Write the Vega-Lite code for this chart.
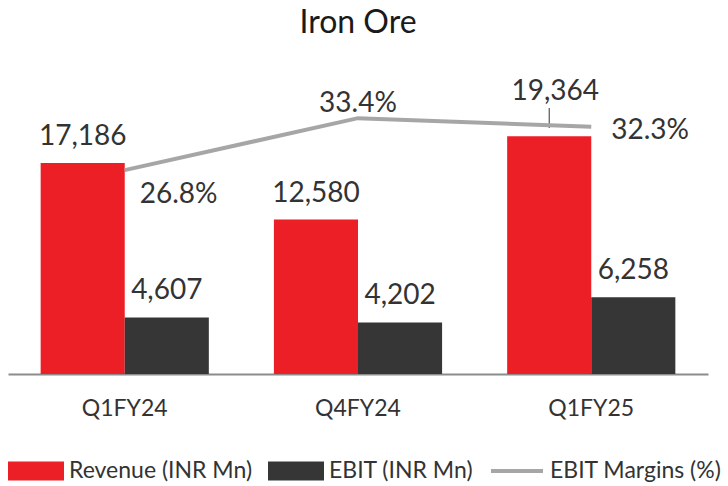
{
  "$schema": "https://vega.github.io/schema/vega-lite/v6.json",
  "width": 700,
  "height": 307,
  "autosize": {"type": "none"},
  "padding": {"left": 8, "top": 67, "right": 20, "bottom": 112},
  "background": "white",
  "title": {"text": "Iron Ore", "font": "Lato", "fontSize": 32, "fontWeight": "normal", "color": "#1a1a1a", "anchor": "middle", "offset": 27},
  "config": {"view": {"stroke": null}, "font": "Lato"},
  "datasets": {
    "bars": [
      {"q": "Q1FY24", "series": "Revenue (INR Mn)", "value": 17186},
      {"q": "Q1FY24", "series": "EBIT (INR Mn)", "value": 4607},
      {"q": "Q4FY24", "series": "Revenue (INR Mn)", "value": 12580},
      {"q": "Q4FY24", "series": "EBIT (INR Mn)", "value": 4202},
      {"q": "Q1FY25", "series": "Revenue (INR Mn)", "value": 19364},
      {"q": "Q1FY25", "series": "EBIT (INR Mn)", "value": 6258}
    ],
    "margin": [
      {"q": "Q1FY24", "series": "EBIT Margins (%)", "m": 0.268},
      {"q": "Q4FY24", "series": "EBIT Margins (%)", "m": 0.334},
      {"q": "Q1FY25", "series": "EBIT Margins (%)", "m": 0.323}
    ],
    "leader": [
      {"q": "Q1FY25", "series": "Revenue (INR Mn)", "lo": 20030, "hi": 21660}
    ]
  },
  "encoding": {
    "x": {
      "field": "q", "type": "nominal", "sort": ["Q1FY24", "Q4FY24", "Q1FY25"],
      "scale": {"paddingInner": 0.279, "paddingOuter": 0.14},
      "axis": {"title": null, "labelAngle": 0, "ticks": false, "domainColor": "#8c8c8c", "domainWidth": 2, "labelFont": "Lato", "labelFontSize": 23, "labelColor": "#333333", "labelPadding": 23}
    }
  },
  "layer": [
    {
      "data": {"name": "bars"},
      "encoding": {
        "xOffset": {"field": "series", "type": "nominal", "sort": ["Revenue (INR Mn)", "EBIT (INR Mn)"], "scale": {"paddingInner": 0, "paddingOuter": 0}},
        "y": {"field": "value", "type": "quantitative", "scale": {"domain": [0, 25000], "nice": false}, "axis": null}
      },
      "layer": [
        {
          "mark": {"type": "bar"},
          "encoding": {
            "color": {
              "field": "series", "type": "nominal",
              "scale": {"domain": ["Revenue (INR Mn)", "EBIT (INR Mn)", "EBIT Margins (%)"], "range": ["#ec1f27", "#363636", "#a6a6a6"]},
              "legend": {
                "title": null, "orient": "none", "direction": "horizontal", "legendX": 0, "legendY": 376,
                "labelFont": "Lato", "labelFontSize": 23, "labelColor": "#333333", "labelLimit": 400, "symbolSize": 2704,
                "columnPadding": 9, "labelOffset": 5, "symbolStrokeWidth": 4, "gridAlign": "none",
                "encode": {
                  "symbols": {
                    "update": {
                      "shape": {"signal": "datum.value == 'EBIT Margins (%)' ? 'stroke' : 'M-1,-0.29H1V0.29H-1Z'"},
                      "fill": {"signal": "datum.value == 'EBIT Margins (%)' ? 'transparent' : (datum.value == 'Revenue (INR Mn)' ? '#ec1f27' : '#363636')"},
                      "stroke": {"signal": "datum.value == 'EBIT Margins (%)' ? '#a6a6a6' : 'transparent'"},
                      "strokeWidth": {"value": 4},
                      "opacity": {"value": 1}
                    }
                  }
                }
              }
            }
          }
        },
        {
          "transform": [{"filter": "datum.q != 'Q1FY25' || datum.series != 'Revenue (INR Mn)'"}],
          "mark": {"type": "text", "baseline": "alphabetic", "dy": -18, "font": "Lato", "fontSize": 28, "color": "#333333"},
          "encoding": {"text": {"field": "value", "type": "quantitative", "format": ","}}
        },
        {
          "transform": [{"filter": "datum.q == 'Q1FY25' && datum.series == 'Revenue (INR Mn)'"}],
          "mark": {"type": "text", "baseline": "alphabetic", "dy": -36, "dx": 6, "font": "Lato", "fontSize": 28, "color": "#333333"},
          "encoding": {"text": {"field": "value", "type": "quantitative", "format": ","}}
        },
        {
          "data": {"name": "leader"},
          "mark": {"type": "rule", "color": "#333333", "strokeWidth": 1},
          "encoding": {
            "y": {"field": "lo", "type": "quantitative"},
            "y2": {"field": "hi"}
          }
        }
      ]
    },
    {
      "data": {"name": "margin"},
      "encoding": {
        "y": {"field": "m", "type": "quantitative", "scale": {"domain": [0.009, 0.399], "nice": false, "zero": false}, "axis": null}
      },
      "layer": [
        {
          "mark": {"type": "line", "strokeWidth": 4},
          "encoding": {"color": {"field": "series", "type": "nominal"}}
        },
        {
          "transform": [{"filter": "datum.q == 'Q1FY24'"}],
          "mark": {"type": "text", "align": "left", "baseline": "alphabetic", "dx": 15, "dy": 33, "font": "Lato", "fontSize": 28, "color": "#333333"},
          "encoding": {"text": {"field": "m", "type": "quantitative", "format": ".1%"}}
        },
        {
          "transform": [{"filter": "datum.q == 'Q4FY24'"}],
          "mark": {"type": "text", "align": "center", "baseline": "alphabetic", "dy": -6, "font": "Lato", "fontSize": 28, "color": "#333333"},
          "encoding": {"text": {"field": "m", "type": "quantitative", "format": ".1%"}}
        },
        {
          "transform": [{"filter": "datum.q == 'Q1FY25'"}],
          "mark": {"type": "text", "align": "left", "baseline": "alphabetic", "dx": 20, "dy": 12, "font": "Lato", "fontSize": 28, "color": "#333333"},
          "encoding": {"text": {"field": "m", "type": "quantitative", "format": ".1%"}}
        }
      ]
    }
  ],
  "resolve": {"scale": {"y": "independent"}}
}
